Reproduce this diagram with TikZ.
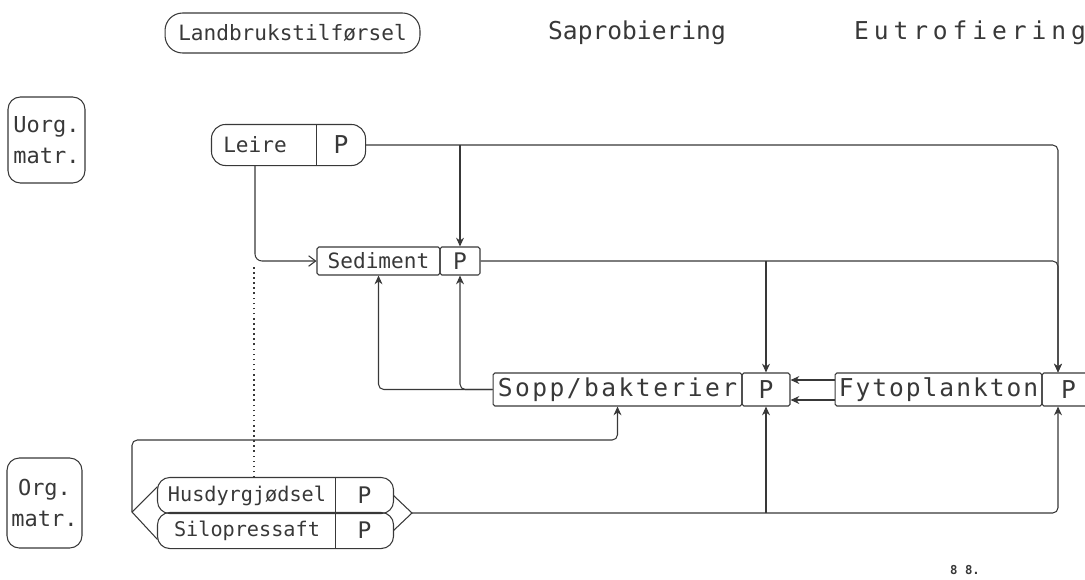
\documentclass[tikz,border=0pt]{standalone}
\usepackage{fontspec}
\setmonofont{DejaVu Sans Mono}
\usepackage{tikz}
\usetikzlibrary{arrows.meta, positioning, calc}

\newcommand{\fsz}[1]{\fontsize{#1}{#1}\selectfont}

\begin{document}
\begin{tikzpicture}[
    x=0.02cm, y=-0.02cm,
    line width=0.6pt, color=black!78,
    cell/.style={rectangle, inner sep=0pt, minimum height=#1, font=\ttfamily\fsz{12}},
    boxcell/.style={cell=#1, draw, rounded corners=1pt},
    head/.style={font=\ttfamily\fsz{14}},
    tag/.style={rectangle, draw, rounded corners=7pt, align=center, inner sep=0pt, font=\ttfamily\fsz{12.5}},
    flow/.style={-{Stealth[length=5pt, width=4.5pt]}, rounded corners=3pt},
    feedline/.style={line width=0.6pt}
]
\useasboundingbox (0,0) rectangle (1085,579);

% column headings
\node[tag, rounded corners=10pt, minimum width=5.1cm, minimum height=0.8cm, font=\ttfamily\fsz{12}] (landbruk) at (292.5,33) {Landbrukstilførsel};
\node[head] (sapro) at (637,33) {Saprobiering};
\node[head, font=\ttfamily\fsz{14}\addfontfeature{LetterSpace=20}] (eutro) at (970,33) {Eutrofiering};

% row labels
\node[tag, minimum width=1.54cm, minimum height=1.72cm] (uorg) at (46.5,140) {Uorg.\\[5pt]matr.};
\node[tag, minimum width=1.5cm, minimum height=1.8cm] (org) at (44.5,503) {Org.\\[5pt]matr.};

% Leire
\node[cell=0.8cm, minimum width=1.72cm, font=\ttfamily\fsz{12}] (leire) at (255,145) {Leire};
\node[cell=0.8cm, minimum width=0.96cm, font=\ttfamily\fsz{14}] (leireP) at (341,145) {P};
\draw[rounded corners=8pt] (leire.north west) rectangle (leireP.south east);
\draw (leireP.north west) -- (leireP.south west);

% Sediment
\node[boxcell=0.56cm, minimum width=2.46cm] (sediment) at (378.5,261) {Sediment};
\node[boxcell=0.56cm, minimum width=0.8cm, font=\ttfamily\fsz{13}] (sedP) at (460,261) {P};

% Sopp/bakterier and Fytoplankton
\node[boxcell=0.66cm, minimum width=4.98cm, font=\ttfamily\fsz{14}\addfontfeature{LetterSpace=10}] (sopp) at (617.5,389.5) {Sopp/bakterier};
\node[boxcell=0.66cm, minimum width=0.96cm, font=\ttfamily\fsz{14}] (soppP) at (766,389.5) {P};
\node[boxcell=0.66cm, minimum width=4.14cm, font=\ttfamily\fsz{14}\addfontfeature{LetterSpace=8}] (fyto) at (938.5,389.5) {Fytoplankton};
\node[boxcell=0.66cm, minimum width=1.06cm, font=\ttfamily\fsz{14}] (fytoP) at (1068.5,389.5) {P};

% Husdyrgjødsel and Silopressaft
\node[cell=0.7cm, minimum width=3.56cm, font=\ttfamily\fsz{11.5}] (husdyr) at (247,495.5) {Husdyrgjødsel};
\node[cell=0.7cm, minimum width=1.14cm, font=\ttfamily\fsz{13}] (husP) at (364.5,495.5) {P};
\node[cell=0.7cm, minimum width=3.56cm, font=\ttfamily\fsz{11.5}] (silo) at (247,530.5) {Silopressaft};
\node[cell=0.7cm, minimum width=1.14cm, font=\ttfamily\fsz{13}] (siloP) at (364.5,530.5) {P};
\draw[rounded corners=7pt] (husdyr.north west) rectangle (husP.south east);
\draw[rounded corners=7pt] (silo.north west) rectangle (siloP.south east);
\draw (husP.north west) -- (siloP.south west);

\node[font=\ttfamily\bfseries\fsz{7}] (sign) at (965,570) {8 8.};

% helper points
\coordinate (fytoIn) at (1058,389.5);
\coordinate (dottop) at (254,266);
\coordinate (ljoin) at (132,512);
\coordinate (ltop) at (132,440);
\coordinate (rjoin) at (412,513);

% Leire
\draw[-{Straight Barb[length=4pt, width=6pt]}, rounded corners=4pt] (leire.south) |- (sediment.west);
\draw[flow] (leireP.east) -| (fytoP.north -| fytoIn);
\draw[flow] (leireP.east -| sedP.north) -- (sedP.north);
\draw[dotted, line width=0.9pt] (husdyr.north -| dottop) -- (dottop);

% Sediment
\draw[flow] (sedP.east) -| (fytoP.north -| fytoIn);
\draw[flow] (sedP.east -| soppP.north) -- (soppP.north);

% Fytoplankton -> Sopp/bakterier
\draw[flow] ([yshift=0.19cm]fyto.west) -- ([yshift=0.19cm]soppP.east);
\draw[flow] ([yshift=-0.21cm]fyto.west) -- ([yshift=-0.21cm]soppP.east);

% Sopp/bakterier -> Sediment
\draw[flow] (sopp.west) -| (sediment.south);
\draw[flow] (sopp.west) -| (sedP.south);

% organic inputs
\draw[feedline] (ljoin) -- ([yshift=0.18cm]husdyr.west);
\draw[feedline] (ljoin) -- ([yshift=-0.18cm]silo.west);
\draw[flow] (ljoin) -- (ltop) -| (sopp.south);
\draw[feedline] (husP.east) -- (rjoin) -- (siloP.east);
\draw[flow] (rjoin) -| (fytoP.south -| fytoIn);
\draw[flow] (rjoin -| soppP.south) -- (soppP.south);
\end{tikzpicture}
\end{document}
